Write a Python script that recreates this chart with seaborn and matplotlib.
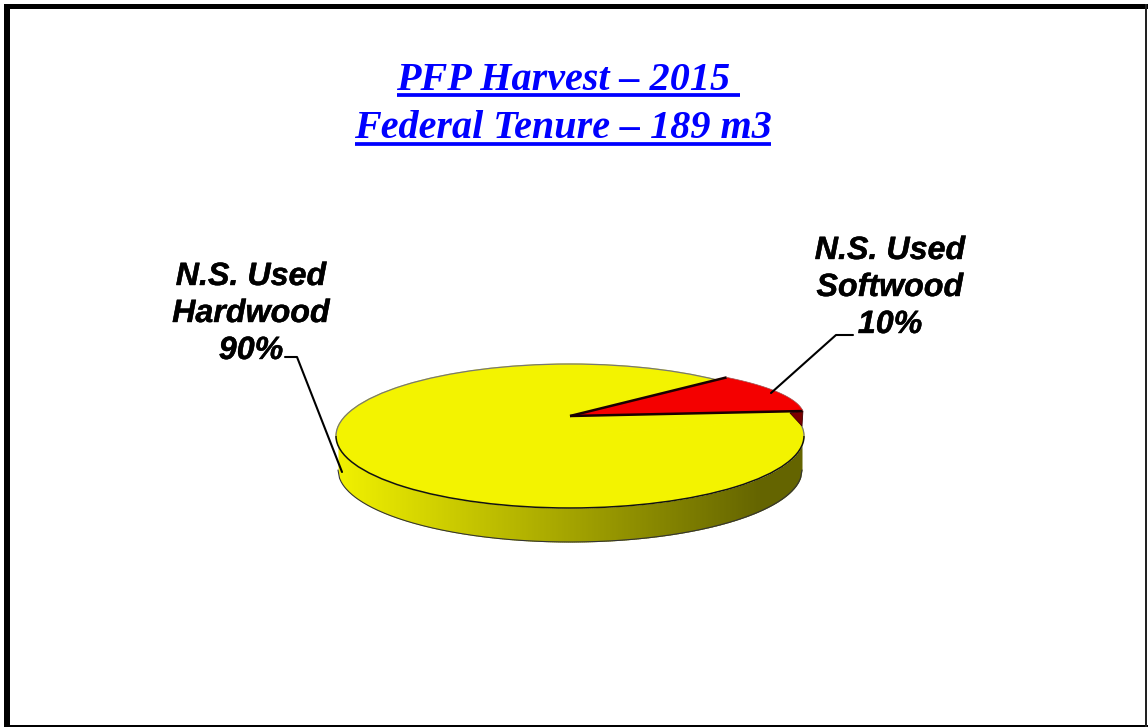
import numpy as np
import matplotlib
matplotlib.use("Agg")
import matplotlib.pyplot as plt
import matplotlib.patheffects as pe
import seaborn as sns
from matplotlib.patches import Polygon, Rectangle, Arc

title_lines = ["PFP Harvest \u2013 2015 ", "Federal Tenure \u2013 189 m3"]
categories = ["N.S. Used\nHardwood", "N.S. Used\nSoftwood"]
shares = [90, 10]
colors = ["#f3f300", "#f40000"]

W, H = 1148, 727
sns.set_theme(style="white")
fig = plt.figure(figsize=(W / 100, H / 100), dpi=100, facecolor="white")

# pixel-space layer
ax = fig.add_axes([0, 0, 1, 1])
ax.set_xlim(0, W)
ax.set_ylim(H, 0)
ax.axis("off")

# frame: four bars of unequal weight
for x, y, w, h, c in [(4, 4, 1144, 5, "black"), (4, 4, 6, 723, "black"),
                      (4, 725, 1144, 2, "black"), (1145, 4, 2, 723, "#222222")]:
    ax.add_patch(Rectangle((x, y), w, h, fc=c, ec="none", zorder=1))

# disc geometry
cx, cy, rx, ry = 570, 436, 234, 72
depth = 34
rim_rx = 232

def top_y(x):
    return cy + ry * np.sqrt(np.clip(1 - ((x - cx) / rx) ** 2, 0, 1))

def bot_y(x):
    return cy + depth + ry * np.sqrt(np.clip(1 - ((x - cx) / rim_rx) ** 2, 0, 1))

# rim with left-to-right shading
xs = np.arange(cx - rim_rx, cx + rim_rx, 2.0)
for x0 in xs:
    x1 = x0 + 2.5
    t = np.clip((x0 - 340) / 420, 0, 1)
    v = (240 - 140 * t) / 255
    seg = np.linspace(x0, min(x1, cx + rim_rx), 3)
    ax.fill_between(seg, top_y(seg), bot_y(seg), color=(v, v, 0), lw=0, zorder=2)
arc = np.linspace(cx - rim_rx, cx + rim_rx, 300)
ax.plot(arc, bot_y(arc), color="#333333", lw=0.8, zorder=3)

# top of the pie
pie_ax = fig.add_axes([(cx - rx) / W, 1 - (cy + ry) / H, 2 * rx / W, 2 * ry / H], zorder=2)
wedges, _ = pie_ax.pie(shares, colors=[colors[0], colors[0]], startangle=50, radius=1,
                       wedgeprops=dict(lw=0.8, ec=colors[0], clip_on=False))
pie_ax.set_aspect("auto")
pie_ax.set_xlim(-1, 1)
pie_ax.set_ylim(-1, 1)
pie_ax.patch.set_visible(False)
# outline: dark along the front, grey along the back
pie_ax.add_patch(Arc((0, 0), 2, 2, theta1=180, theta2=360, ec="#111111", lw=1.1, clip_on=False))
pie_ax.add_patch(Arc((0, 0), 2, 2, theta1=0, theta2=180, ec="#777777", lw=0.9, clip_on=False))

# overlay layer for the tilted softwood slice and the annotations
ov = fig.add_axes([0, 0, 1, 1], zorder=3)
ov.set_xlim(0, W)
ov.set_ylim(H, 0)
ov.axis("off")

ax0, ay0 = 570, 416
rry = 52
start = 5.5
span = shares[1] / sum(shares) * 360 * 1.18
th = np.radians(np.linspace(start, start + span, 50))
ex = ax0 + rx * np.cos(th)
ey = ay0 - rry * np.sin(th)
# dark cut side
ov.add_patch(Polygon([(790, 413), (ex[0], ey[0]), (802, 426)], closed=True,
                     fc="#7a0000", ec="#400000", lw=0.6, zorder=4))
ov.add_patch(Polygon(np.column_stack([np.r_[ax0, ex], np.r_[ay0, ey]]), closed=True,
                     fc=colors[1], ec="none", zorder=5))
ov.plot([ax0, ex[0]], [ay0, ey[0]], color="#1a0000", lw=1.8, zorder=6, solid_capstyle="butt")
ov.plot([ax0, ex[-1]], [ay0, ey[-1]], color="#1a0000", lw=1.8, zorder=6, solid_capstyle="butt")
ov.plot(ex, ey, color="#a05050", lw=0.5, zorder=6)

# leaders
ov.plot([285, 297, 342], [357, 357, 472], color="black", lw=1.5, zorder=7)
ov.plot([853, 836, 771], [335, 335, 393], color="black", lw=1.5, zorder=7)

# title
serif = dict(family="Liberation Serif", weight="bold", style="italic", color="#0000ff",
             fontsize=28.9, ha="center", va="baseline")
ov.text(568.5, 90, title_lines[0], **serif)
ov.text(563, 137.5, title_lines[1], **serif)
ov.plot([397, 740], [95, 95], color="#0000ff", lw=2.7, solid_capstyle="butt")
ov.plot([355, 771], [143.5, 143.5], color="#0000ff", lw=2.7, solid_capstyle="butt")

# labels
sans = dict(family="Liberation Sans", weight="bold", style="italic", color="black",
            fontsize=23.2, ha="center", va="baseline",
            path_effects=[pe.withStroke(linewidth=0.3, foreground="black")])
for cat, share, x, y0 in zip(categories, shares, [251, 890], [285, 259]):
    parts = cat.split("\n") + [f"{share}%"]
    for i, part in enumerate(parts):
        ov.text(x, y0 + i * 37, part, **sans)

fig.savefig("out.png", dpi=100, facecolor="white")
